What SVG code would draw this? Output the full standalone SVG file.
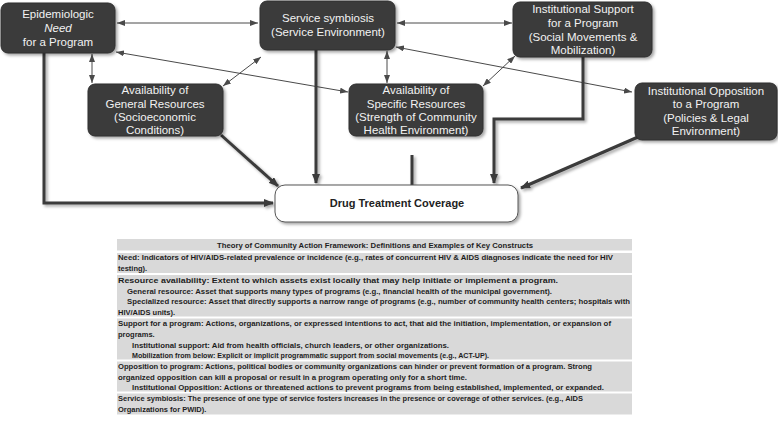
<svg xmlns="http://www.w3.org/2000/svg" width="778" height="423" viewBox="0 0 778 423">
<defs>
<style>
.node rect{fill:#3a3a3a;stroke:#2e2e2e;stroke-width:1}
.node text{font-family:"Liberation Sans",Arial,sans-serif;font-size:11.5px;fill:#f2f2f2;text-anchor:middle}
.thin{fill:none;stroke:#4a4a4a;stroke-width:1}
.thick{fill:none;stroke:#3a3a3a;stroke-width:3}
.tbl{font-family:"Liberation Sans",Arial,sans-serif;font-size:8px;font-weight:bold;fill:#1e1e1e}
.sm{font-size:7.5px}
.row{fill:#d9d9d9}
</style>
<filter id="sh" x="-10%" y="-10%" width="130%" height="140%">
<feDropShadow dx="2" dy="2" stdDeviation="1.5" flood-color="#000" flood-opacity="0.35"/>
</filter>
<marker id="ta" markerUnits="userSpaceOnUse" markerWidth="8" markerHeight="6" refX="8" refY="3" orient="auto-start-reverse">
<path d="M0,0 L8,3 L0,6 z" fill="#4a4a4a"/>
</marker>
<marker id="ka" markerUnits="userSpaceOnUse" markerWidth="10" markerHeight="8" refX="9" refY="4" orient="auto">
<path d="M0,0 L10,4 L0,8 z" fill="#3a3a3a"/>
</marker>
</defs>
<rect width="778" height="423" fill="#ffffff"/>

<g id="connectors">
<path class="thin" d="M117,23 L258,23" marker-start="url(#ta)" marker-end="url(#ta)"/>
<path class="thin" d="M397,23 L512,23" marker-start="url(#ta)" marker-end="url(#ta)"/>
<path class="thin" d="M92,54 L92,83" marker-start="url(#ta)" marker-end="url(#ta)"/>
<path class="thin" d="M387,51 L387,83" marker-start="url(#ta)" marker-end="url(#ta)"/>
<path class="thin" d="M261,57 L223,86" marker-start="url(#ta)" marker-end="url(#ta)"/>
<path class="thin" d="M515,56 L483,86" marker-start="url(#ta)" marker-end="url(#ta)"/>
<path class="thin" d="M116,52 L348,92" marker-start="url(#ta)" marker-end="url(#ta)"/>
<path class="thin" d="M396,47 L632,92" marker-start="url(#ta)" marker-end="url(#ta)"/>
<g filter="url(#sh)">
<path class="thick" d="M44,53 L44,203 L273,203" marker-end="url(#ka)"/>
<path class="thick" d="M316,50 L316,183" marker-end="url(#ka)"/>
<path class="thick" d="M221,135 L278,186" marker-end="url(#ka)"/>
<path class="thick" d="M412,155 L412,185"/>
<path class="thick" d="M583,57 L583,119 L494,119 L494,183" marker-end="url(#ka)"/>
<path class="thick" d="M638,137 L521,188" marker-end="url(#ka)"/>
</g>
</g>

<g id="need" class="node">
<rect x="1" y="3" width="114" height="50" rx="7" filter="url(#sh)"/>
<text x="58" y="18">Epidemiologic</text>
<text x="58" y="32" font-style="italic">Need</text>
<text x="58" y="46">for a Program</text>
</g>
<g id="symbiosis" class="node">
<rect x="260" y="1" width="135" height="49" rx="7" filter="url(#sh)"/>
<text x="328" y="22">Service symbiosis</text>
<text x="328" y="36">(Service Environment)</text>
</g>
<g id="support" class="node">
<rect x="513" y="2" width="139" height="55" rx="7" filter="url(#sh)"/>
<text x="583" y="13">Institutional Support</text>
<text x="583" y="27">for a Program</text>
<text x="583" y="41">(Social Movements &amp;</text>
<text x="583" y="54">Mobilization)</text>
</g>
<g id="general" class="node">
<rect x="88" y="84" width="135" height="52" rx="7" filter="url(#sh)"/>
<text x="155" y="94">Availability of</text>
<text x="155" y="108">General Resources</text>
<text x="155" y="121">(Socioeconomic</text>
<text x="155" y="134">Conditions)</text>
</g>
<g id="specific" class="node">
<rect x="349" y="84" width="134" height="52" rx="7" filter="url(#sh)"/>
<text x="416" y="94">Availability of</text>
<text x="416" y="108">Specific Resources</text>
<text x="416" y="121">(Strength of Community</text>
<text x="416" y="134">Health Environment)</text>
</g>
<g id="opposition" class="node">
<rect x="635" y="83" width="142" height="57" rx="7" filter="url(#sh)"/>
<text x="706" y="95">Institutional Opposition</text>
<text x="706" y="108">to a Program</text>
<text x="706" y="122">(Policies &amp; Legal</text>
<text x="706" y="135">Environment)</text>
</g>
<g id="coverage">
<rect x="275" y="185" width="243" height="37" rx="10" fill="#ffffff" stroke="#555" stroke-width="1" filter="url(#sh)"/>
<text x="397" y="207" font-family="'Liberation Sans',Arial,sans-serif" font-size="11px" font-weight="bold" fill="#222" text-anchor="middle">Drug Treatment Coverage</text>
</g>

<g id="table">
<rect class="row" x="117" y="239" width="515" height="11.5"/>
<rect class="row" x="117" y="253" width="515" height="20"/>
<rect class="row" x="117" y="275" width="515" height="41.5"/>
<rect class="row" x="117" y="318.5" width="515" height="41"/>
<rect class="row" x="117" y="361.5" width="515" height="30"/>
<rect class="row" x="117" y="393.5" width="515" height="21"/>
<text class="tbl" x="217" y="248" textLength="316" lengthAdjust="spacingAndGlyphs">Theory of Community Action Framework: Definitions and Examples of Key Constructs</text>
<text class="tbl" x="118" y="260" textLength="495" lengthAdjust="spacingAndGlyphs">Need: Indicators of HIV/AIDS-related prevalence or incidence (e.g., rates of concurrent HIV &amp; AIDS diagnoses indicate the need for HIV</text>
<text class="tbl sm" x="118" y="271">testing).</text>
<text class="tbl" x="118" y="283" textLength="440" lengthAdjust="spacingAndGlyphs">Resource availability:  Extent to which assets exist locally that may help initiate or implement a program.</text>
<text class="tbl" x="127" y="294" textLength="425" lengthAdjust="spacingAndGlyphs">General resource: Asset that supports many types of programs (e.g., financial  health of the municipal  government).</text>
<text class="tbl" x="127" y="304" textLength="503" lengthAdjust="spacingAndGlyphs">Specialized  resource: Asset that directly supports a narrow range of programs (e.g., number of community health centers; hospitals  with</text>
<text class="tbl sm" x="118" y="315">HIV/AIDS units).</text>
<text class="tbl" x="118" y="326" textLength="493" lengthAdjust="spacingAndGlyphs">Support for a program: Actions, organizations,  or expressed intentions to act, that aid the initiation,  implementation, or expansion  of</text>
<text class="tbl sm" x="118" y="337">programs.</text>
<text class="tbl" x="132" y="348" textLength="317" lengthAdjust="spacingAndGlyphs">Institutional  support: Aid from health officials,  church leaders, or other organizations.</text>
<text class="tbl" x="132" y="358" textLength="357" lengthAdjust="spacingAndGlyphs">Mobilization  from below: Explicit  or implicit programmatic support from social  movements (e.g., ACT-UP).</text>
<text class="tbl" x="118" y="369" textLength="474" lengthAdjust="spacingAndGlyphs">Opposition to program: Actions, political bodies or community organizations  can hinder or prevent formation of a program. Strong</text>
<text class="tbl" x="118" y="380" textLength="349" lengthAdjust="spacingAndGlyphs">organized opposition can kill a proposal or result in a program operating only for a short time.</text>
<text class="tbl" x="132" y="390" textLength="472" lengthAdjust="spacingAndGlyphs">Institutional  Opposition: Actions or threatened actions  to prevent programs from being established,  implemented, or expanded.</text>
<text class="tbl" x="118" y="401" textLength="465" lengthAdjust="spacingAndGlyphs">Service symbiosis:  The presence of one type of service fosters increases in the presence or coverage of other services.  (e.g., AIDS</text>
<text class="tbl sm" x="118" y="412">Organizations for PWID).</text>
</g>
</svg>
